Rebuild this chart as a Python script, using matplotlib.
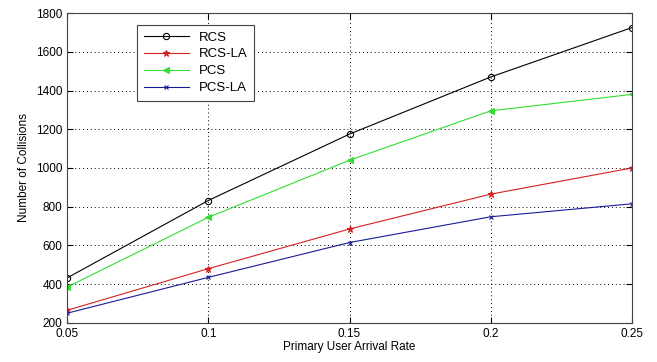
import matplotlib
matplotlib.use("Agg")
import matplotlib.pyplot as plt

# Primary user arrival rate vs number of collisions
arrival_rate = [0.05, 0.1, 0.15, 0.2, 0.25]
rcs = [432, 832, 1175, 1470, 1725]
rcs_la = [265, 480, 685, 865, 1000]
pcs = [385, 745, 1040, 1295, 1380]
pcs_la = [250, 435, 615, 748, 815]

plt.rcParams["font.family"] = ["Liberation Sans", "DejaVu Sans"]

fig = plt.figure(figsize=(6.57, 3.62), dpi=100)
ax = fig.add_axes([0.102, 0.108, 0.860, 0.856])

ax.plot(arrival_rate, rcs, "-o", color="black", lw=0.8, ms=4.5, mfc="none", mew=0.8, label="RCS")
ax.plot(arrival_rate, rcs_la, "-*", color="#d62020", lw=0.8, ms=5, mew=0.8, label="RCS-LA")
ax.plot(arrival_rate, pcs, "-<", color="#33dd33", lw=0.8, ms=4.5, mew=0.8, label="PCS")
ax.plot(arrival_rate, pcs_la, "-x", color="#1a1a99", lw=0.8, ms=3.5, mew=0.8, label="PCS-LA")

ax.set_xlim(0.05, 0.25)
ax.set_ylim(200, 1800)
ax.set_xticks(arrival_rate)
ax.set_xticklabels(["0.05", "0.1", "0.15", "0.2", "0.25"])
ax.set_yticks(range(200, 1801, 200))
ax.tick_params(labelsize=8.5, direction="in", length=4, top=True, right=True)
ax.grid(True, linestyle=(0, (1, 3)), color="black", lw=0.7)
ax.set_xlabel("Primary User Arrival Rate", fontsize=8.5, labelpad=1)
ax.set_ylabel("Number of Collisions", fontsize=8.5)
for s in ax.spines.values():
    s.set_color("#444444")

leg = ax.legend(loc="upper left", bbox_to_anchor=(0.124, 0.962), fontsize=9.5,
                fancybox=False, edgecolor="#444444", framealpha=1, borderaxespad=0,
                handlelength=3.4, borderpad=0.5, labelspacing=0.35)
leg.get_frame().set_linewidth(0.8)

fig.savefig("out.png", dpi=100)
